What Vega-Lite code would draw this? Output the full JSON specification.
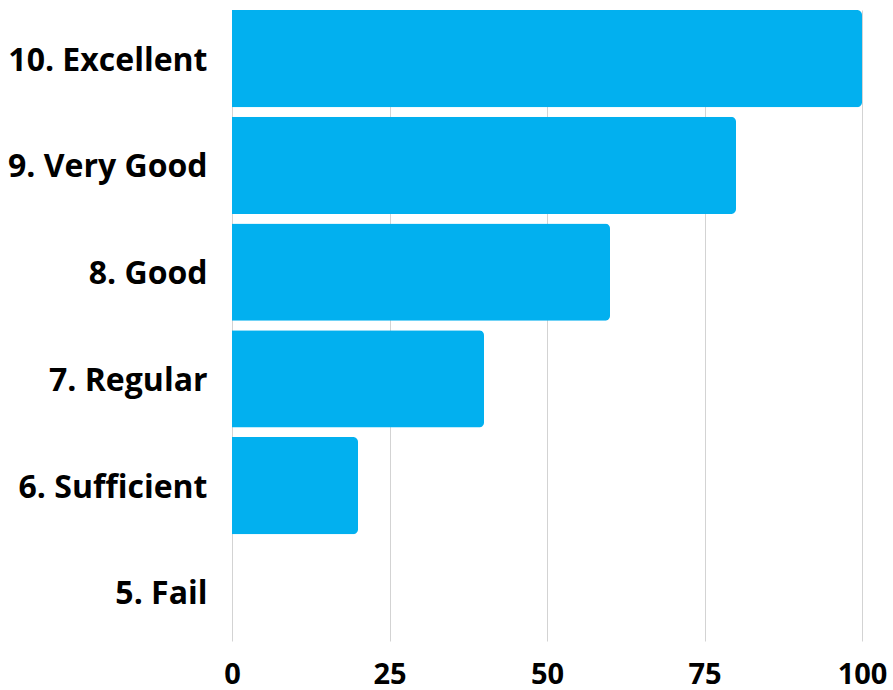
{
  "$schema": "https://vega.github.io/schema/vega-lite/v6.json",
  "autosize": {"type": "none"},
  "width": 630,
  "height": 631,
  "padding": {"left": 232, "top": 10, "right": 31, "bottom": 49},
  "background": "white",
  "data": {"values": [
    {"grade": "10. Excellent", "value": 100},
    {"grade": "9. Very Good", "value": 80},
    {"grade": "8. Good", "value": 60},
    {"grade": "7. Regular", "value": 40},
    {"grade": "6. Sufficient", "value": 20},
    {"grade": "5. Fail", "value": 0}
  ]},
  "mark": {"type": "bar", "color": "#02B0EF", "cornerRadiusEnd": 5},
  "encoding": {
    "y": {"field": "grade", "type": "nominal", "sort": null, "title": null,
      "scale": {"paddingInner": 0.09, "paddingOuter": 0},
      "axis": {"domain": false, "ticks": false, "grid": false, "labelFont": "Open Sans", "labelFontWeight": "bold", "labelFontSize": 32, "labelColor": "#000000", "labelPadding": 25, "labelLimit": 300, "labelOffset": 2}},
    "x": {"field": "value", "type": "quantitative", "title": null,
      "scale": {"domain": [0, 100], "nice": false},
      "axis": {"values": [0, 25, 50, 75, 100], "domain": false, "ticks": false, "gridColor": "#d3d3d3", "labelFont": "Open Sans", "labelFontWeight": "bold", "labelFontSize": 29, "labelColor": "#000000", "labelPadding": 19, "labelFlush": false}}
  },
  "config": {"view": {"stroke": null}}
}
